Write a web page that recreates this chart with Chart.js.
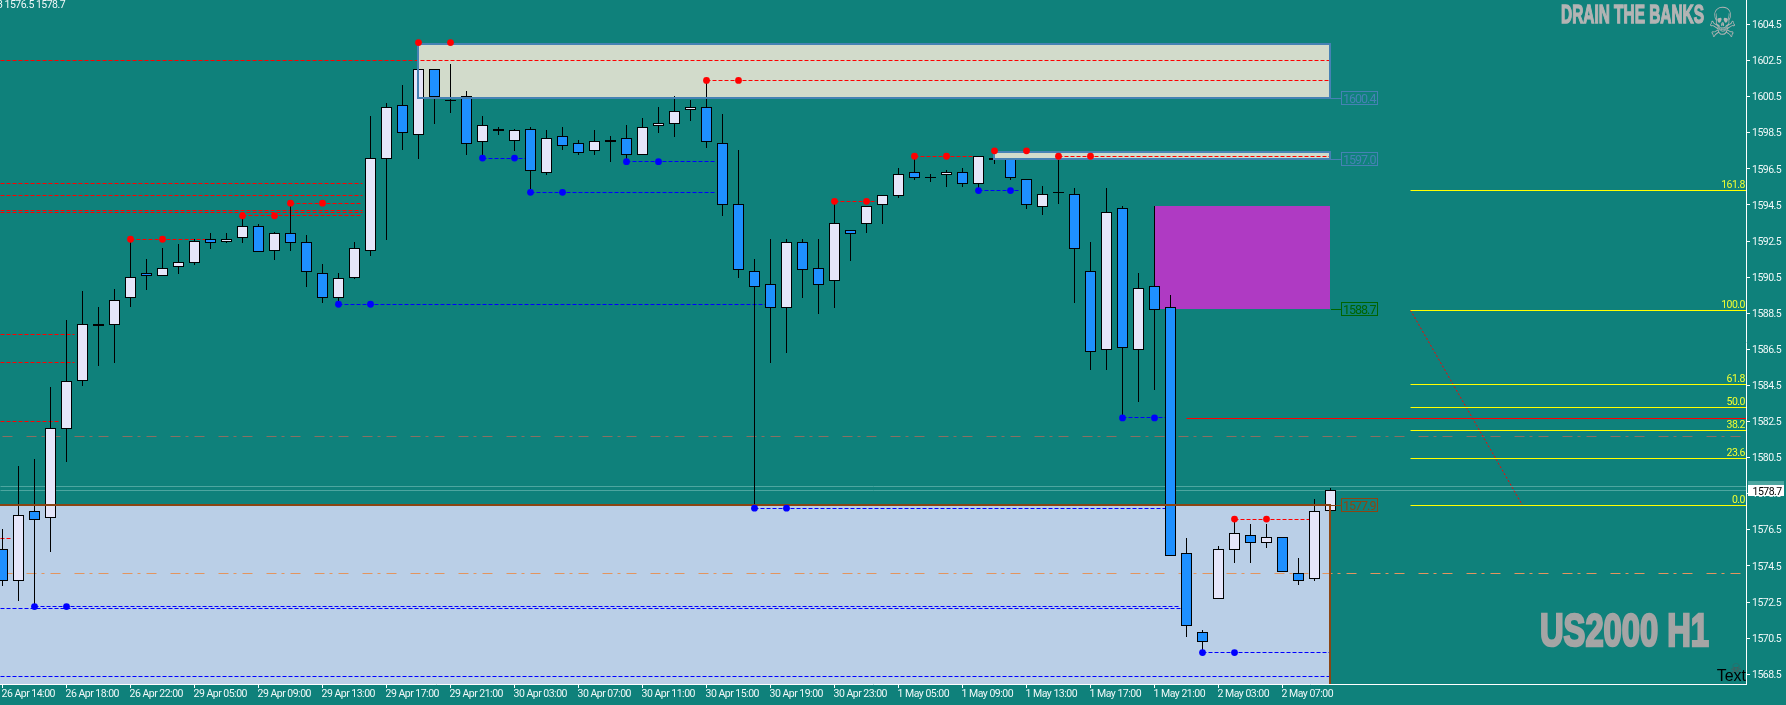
<!DOCTYPE html>
<html><head><meta charset="utf-8">
<style>html,body{margin:0;padding:0;background:#0F817B;overflow:hidden}canvas{display:block}</style>
<script src="https://cdn.jsdelivr.net/npm/chart.js@4"></script>
</head><body><canvas id="c" width="1786" height="705"></canvas>
<script>
const opens=[1575.4,1573.7,1577.5,1577.2,1582.1,1584.8,1587.8,1587.9,1589.4,1590.7,1590.6,1591.1,1591.3,1592.6,1592.5,1592.7,1593.3,1592.0,1592.9,1592.4,1590.7,1589.4,1590.5,1592.0,1597.1,1600.0,1598.4,1602.0,1600.3,1600.5,1598.0,1598.6,1598.1,1598.7,1596.3,1598.3,1597.9,1597.5,1598.0,1598.2,1597.3,1598.9,1599.0,1599.8,1599.9,1597.9,1594.5,1590.8,1590.1,1588.8,1592.4,1591.0,1590.3,1593.1,1593.5,1594.5,1595.0,1596.3,1596.0,1596.2,1596.3,1595.7,1597.1,1597.0,1595.9,1594.4,1595.2,1595.1,1590.8,1586.5,1594.3,1586.5,1590.0,1588.8,1575.2,1570.8,1572.7,1575.4,1576.2,1575.8,1576.1,1574.1,1573.8,1577.6];
const highs=[1576.5,1580.0,1580.4,1584.4,1588.1,1589.7,1588.8,1589.8,1592.6,1591.5,1592.1,1592.3,1592.6,1592.9,1592.9,1593.9,1593.4,1593.0,1594.6,1592.8,1591.2,1590.7,1592.4,1599.4,1600.1,1601.1,1603.5,1602.0,1602.3,1600.8,1599.4,1598.8,1598.7,1598.8,1598.6,1598.8,1598.1,1598.6,1598.3,1598.9,1599.3,1599.9,1600.5,1600.3,1601.4,1599.5,1597.5,1591.5,1592.6,1592.6,1592.6,1592.6,1594.7,1593.1,1594.4,1595.0,1596.5,1597.2,1596.2,1596.4,1596.5,1597.2,1597.5,1597.1,1595.9,1595.5,1597.2,1595.4,1592.4,1595.4,1594.4,1590.7,1594.4,1589.5,1576.0,1570.9,1575.6,1577.1,1576.8,1576.8,1576.1,1574.9,1578.2,1578.8];
const lows=[1573.4,1572.6,1572.3,1575.3,1580.3,1584.5,1585.6,1585.8,1588.9,1589.8,1590.6,1590.7,1591.2,1592.1,1592.4,1592.4,1591.9,1591.5,1592.0,1590.0,1589.1,1589.0,1590.4,1591.7,1592.6,1597.6,1597.1,1599.0,1599.6,1597.3,1597.2,1598.4,1597.5,1595.2,1596.2,1597.6,1597.3,1597.3,1596.9,1597.0,1597.3,1598.5,1598.3,1599.2,1597.7,1593.9,1590.5,1577.8,1585.8,1586.3,1589.4,1588.5,1588.8,1591.4,1593.0,1593.5,1594.9,1595.9,1595.8,1595.5,1595.5,1595.4,1596.8,1595.9,1594.3,1594.0,1594.6,1589.1,1585.4,1585.4,1582.7,1583.6,1584.3,1575.1,1570.6,1569.8,1572.7,1574.7,1574.7,1575.5,1574.2,1573.5,1573.7,1577.6];
const closes=[1573.7,1577.3,1577.1,1582.1,1584.7,1587.9,1587.9,1589.2,1590.5,1590.6,1591.0,1591.3,1592.5,1592.4,1592.6,1593.3,1591.9,1592.9,1592.4,1590.8,1589.4,1590.4,1592.1,1597.1,1599.9,1598.5,1602.0,1600.5,1600.3,1597.9,1598.9,1598.7,1598.6,1596.4,1598.2,1597.8,1597.4,1598.0,1598.1,1597.3,1598.8,1599.0,1599.7,1599.9,1598.0,1594.5,1590.9,1590.0,1588.8,1592.4,1590.9,1590.1,1593.5,1592.9,1594.4,1595.0,1596.2,1596.0,1596.0,1596.3,1595.7,1597.2,1597.0,1596.0,1594.5,1595.1,1595.2,1592.1,1586.4,1594.1,1586.6,1589.9,1588.7,1575.1,1571.2,1570.3,1575.4,1576.3,1575.8,1576.1,1574.2,1573.7,1577.5,1578.7];
const timeLabels=["26 Apr 14:00","26 Apr 18:00","26 Apr 22:00","29 Apr 05:00","29 Apr 09:00","29 Apr 13:00","29 Apr 17:00","29 Apr 21:00","30 Apr 03:00","30 Apr 07:00","30 Apr 11:00","30 Apr 15:00","30 Apr 19:00","30 Apr 23:00","1 May 05:00","1 May 09:00","1 May 13:00","1 May 17:00","1 May 21:00","2 May 03:00","2 May 07:00"];
const priceTicks=[1568.5,1570.5,1572.5,1574.5,1576.5,1578.5,1580.5,1582.5,1584.5,1586.5,1588.5,1590.5,1592.5,1594.5,1596.5,1598.5,1600.5,1602.5,1604.5];
const fibLabels=["161.8","100.0","61.8","50.0","38.2","23.6","0.0"];
const fibPrices=[1595.33,1588.67,1584.57,1583.30,1582.03,1580.45,1577.86];
const redFractalBars=[8,15,18,26,44,52,57,62,66,77];
const redFractalPrices=[1592.6,1593.9,1594.6,1603.5,1601.4,1594.7,1597.2,1597.5,1597.2,1577.1];
const redFractalEnds=[12.7,22.5,22.5,26,83,54.7,60.7,62,83,81.7];
const blueFractalBars=[2,21,30,33,39,47,61,70,75];
const blueFractalPrices=[1572.25,1589.0,1597.1,1595.2,1596.9,1577.7,1595.3,1582.7,1569.7];
const blueFractalEnds=[73.6,47.7,32.7,44.6,44.6,72.7,63.6,73,83];
const redOldPrices=[1602.5,1595.7,1595.0,1594.2,1594.1,1587.3,1585.8,1582.5,1576.0];
const redOldEnds=[83,22.5,22.5,22.5,22.5,4.5,4.5,3.65,0.5];
const blueOldPrices=[1572.15,1568.4];
const blueOldEnds=[73.6,83];
const chartMin=1567.96, chartMax=1605.857, barMin=-0.15625, barMax=108.96875, lastBar=83;

const seg=(a,b,p)=>[{x:a,y:p},{x:b,y:p}];
const ds=[];
function line(data,color,width,dash,order,extra){
  ds.push(Object.assign({type:'line',data,borderColor:color,borderWidth:width,borderDash:dash||[],pointRadius:0,fill:false,order,tension:0},extra||{}));
}
function zoneFill(a,b,top,bottom,color){
  line(seg(a,b,top),'transparent',0,null,100,{fill:{target:{value:bottom},above:color,below:color},backgroundColor:color,snapFloor:true});
}
zoneFill(barMin,lastBar,1577.9,chartMin,'#BACFE7');
zoneFill(26,lastBar,1603.4,1600.43,'#D2DBCB');
zoneFill(62,lastBar,1597.41,1597.05,'#D2DBCB');
zoneFill(72,lastBar,1594.45,1588.73,'#AF3AC3');

const dashDot=[10,14,10,5,3,6];
const levelDash=[4,2];
line(seg(0,108.66,1574.1),'#E3955F',1,dashDot,90);
line(seg(0,108.66,1581.69),'#8A6F62',1,dashDot,90);
line(seg(barMin,barMax,1578.9),'#4DA6A0',1,null,90);
line(seg(barMin,barMax,1578.7),'#4DA6A0',1,null,90);
redOldPrices.forEach((p,k)=>line(seg(barMin,redOldEnds[k],p),'#FF0000',1,levelDash,85));
blueOldPrices.forEach((p,k)=>line(seg(barMin,blueOldEnds[k],p),'#0000FF',1,levelDash,85));
redFractalBars.forEach((b,k)=>line(seg(b,redFractalEnds[k],redFractalPrices[k]),'#FF0000',1,levelDash,85));
blueFractalBars.forEach((b,k)=>line(seg(b,blueFractalEnds[k],blueFractalPrices[k]),'#0000FF',1,levelDash,85));

// candles
ds.push({type:'bar',data:lows.map((l,i)=>({x:i,y:[l,highs[i]]})),backgroundColor:'#000',borderWidth:0,barThickness:1,grouped:false,inflateAmount:0,order:60,isCandle:true});
ds.push({type:'bar',data:opens.map((o,i)=>({x:i,y:[o,closes[i]]})),backgroundColor:opens.map((o,i)=>closes[i]>=o?'#E6E6FA':'#1E90FF'),borderColor:'#000',borderWidth:1,borderSkipped:false,barThickness:11,grouped:false,inflateAmount:0,order:50,isCandle:true});

// zone borders, on top of candles
const box=(a,b,t,u)=>[{x:a,y:t},{x:b,y:t},{x:b,y:u},{x:a,y:u},{x:a,y:t}];
line(box(26,lastBar,1603.4,1600.43),'#4682B4',2,null,40);
line(box(62,lastBar,1597.41,1597.05),'#4682B4',2,null,40);
line([{x:barMin,y:1577.9},{x:lastBar,y:1577.9},{x:lastBar,y:chartMin}],'#8B4513',2,null,40);

// fibonacci and trend
fibPrices.forEach(p=>line(seg(88,barMax,p),'#FFFF00',1,null,30));
line(seg(74,barMax,1582.68),'#FF0000',1,null,30);
line([{x:88,y:1588.67},{x:95,y:1577.86}],'#FF0000',1,[2,2],30,{noSnap:true});

// fractal dots
const dots=(bars,prices,color)=>ds.push({type:'line',showLine:false,data:bars.flatMap((b,k)=>[{x:b,y:prices[k]},{x:b+2,y:prices[k]}]),pointRadius:3.4,pointBorderWidth:0,pointBackgroundColor:color,pointHoverRadius:3.4,order:20,noSnap:true});
dots(redFractalBars,redFractalPrices,'#FF0000');
dots(blueFractalBars,blueFractalPrices,'#0000FF');

const AXF="Roboto,'Liberation Sans',sans-serif";
const snap={id:'snap',afterDatasetsUpdate(chart){
  chart.data.datasets.forEach((d,i)=>{
    const meta=chart.getDatasetMeta(i);
    if(d.isCandle){
      meta.data.forEach(el=>{
        const t=Math.floor(Math.min(el.y,el.base));
        let b=Math.floor(Math.max(el.y,el.base))+1;
        el.y=t;el.base=b;el.height=b-t;
      });
    }else if(d.type==='line'&&!d.noSnap){
      const even=d.snapFloor||d.borderWidth===2;
      meta.data.forEach(el=>{
        if(even){el.x=Math.floor(el.x);el.y=Math.round(el.y);}
        else{el.x=Math.floor(el.x)+0.5;el.y=Math.floor(el.y)+0.5;}
      });
    }
  });
}};
const overlay={id:'overlay',
 beforeLayout(chart){chart.ctx.letterSpacing='-0.5px';},
 beforeDraw(chart){chart.ctx.letterSpacing='-0.5px';},
 afterDraw(chart){
  const c=chart.ctx,ys=chart.scales.y;
  c.save();
  c.textBaseline='alphabetic';
  // fibo labels
  c.font="10.5px "+AXF;c.fillStyle='#F2FF30';c.textAlign='right';
  fibPrices.forEach((p,k)=>c.fillText(fibLabels[k],1745,Math.floor(ys.getPixelForValue(p))-2));
  // zone price tags
  const tags=[[1600.43,"1600.4",'#4682B4'],[1597.05,"1597.0",'#4682B4'],[1588.73,"1588.7",'#006400'],[1577.9,"1577.9",'#8B4513']];
  tags.forEach(([p,t,col])=>{
    const y=Math.round(ys.getPixelForValue(p));
    c.strokeStyle=col;c.lineWidth=1;
    c.strokeRect(1341.5,y-6.5,36,13);
    c.beginPath();c.moveTo(1331,y+0.5);c.lineTo(1341,y+0.5);c.stroke();
    c.fillStyle=col;c.textAlign='left';c.font="12.5px "+AXF;c.letterSpacing='-1px';
    c.fillText(t,1343,y+5);
  });
  c.letterSpacing='-0.5px';
  // current price tag
  c.fillStyle='#4DA6A0';c.fillRect(1748,481,36,11);
  c.fillStyle='#FFFFFF';c.fillRect(1748,485,36,11);
  c.fillStyle='#000';c.font="10.5px "+AXF;c.textAlign='left';c.fillText("1578.7",1752.5,494.5);
  // top-left readout
  c.fillStyle='#F0F8F8';c.fillText("3 1576.5 1578.7",-3,7.5);
  c.letterSpacing='0px';
  // watermarks
  const fit=(t,x,w,base,size,col)=>{
    c.save();c.font="bold "+size+"px 'Liberation Sans'";
    const m=c.measureText(t).width;
    c.translate(x,base);c.scale(w/m,1);
    c.fillStyle=col;c.strokeStyle=col;c.lineWidth=size*0.055;c.textAlign='left';
    c.fillText(t,0,0);c.strokeText(t,0,0);c.restore();
  };
  fit("DRAIN THE BANKS",1561,143,23,25,'#B4B4B4');
  fit("US2000 H1",1540,169,646,46,'#A5A5A5');
  c.save();c.translate(1722.5,37);c.scale(1,1.3);c.fillStyle='#B4B4B4';c.font="32px 'DejaVu Sans'";c.textAlign='center';c.fillText("\u2620",0,0);c.restore();
  c.fillStyle='#555555';c.font="13px 'DejaVu Sans'";c.textAlign='center';c.fillText("\u2620",1736,673);
  c.fillStyle='#000';c.font="16px 'Liberation Sans'";c.textAlign='right';c.fillText("Text",1746,681);
  c.restore();
}};
new Chart(document.getElementById('c'),{
  type:'bar',
  data:{datasets:ds},
  plugins:[snap,overlay],
  options:{
    responsive:false,animation:false,
    layout:{padding:0,autoPadding:false},
    interaction:{mode:null},
    events:[],
    plugins:{legend:{display:false},tooltip:{enabled:false},title:{display:false}},
    scales:{
      x:{type:'linear',position:'bottom',min:barMin,max:barMax,offset:false,
        grid:{drawOnChartArea:false,offset:false,color:'#FFFFFF',tickColor:'#FFFFFF',tickLength:4,lineWidth:1},
        border:{color:'#FFFFFF',width:1},
        afterBuildTicks:s=>{s.ticks=timeLabels.map((_,k)=>({value:k*4}));},
        afterFit:s=>{s.height=21;s.paddingLeft=0;s.paddingRight=0;},
        ticks:{autoSkip:false,maxRotation:0,minRotation:0,align:'start',padding:0,labelOffset:-1,color:'#F0F8F8',font:{family:AXF,size:10.5},
          callback:v=>timeLabels[v/4]}},
      y:{type:'linear',position:'right',min:chartMin,max:chartMax,
        grid:{drawOnChartArea:false,color:'#FFFFFF',tickColor:'#FFFFFF',tickLength:4,lineWidth:1},
        border:{color:'#FFFFFF',width:1},
        afterBuildTicks:s=>{s.ticks=priceTicks.map(v=>({value:v}));},
        afterFit:s=>{s.width=40;s.paddingTop=0;s.paddingBottom=0;},
        ticks:{autoSkip:false,padding:2,labelOffset:1,color:'#F0F8F8',font:{family:AXF,size:10.5},callback:v=>v.toFixed(1)}}
    }
  }
});
</script></body></html>
